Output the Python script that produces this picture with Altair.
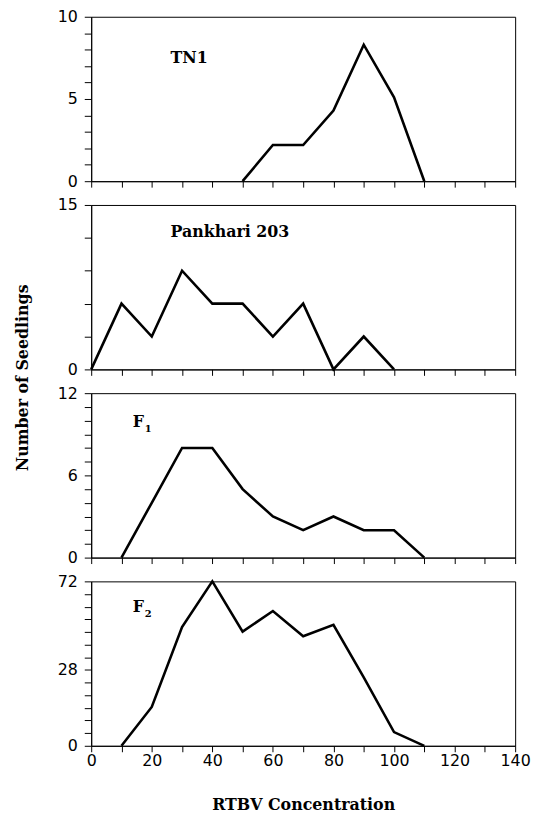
import altair as alt
import pandas as pd

# ---- data ----
x_ticks = list(range(0, 141, 10))

tn1_x = [50, 60, 70, 80, 90, 100, 110]
tn1_y = [0, 2.2, 2.2, 4.3, 8.3, 5.1, 0]

pank_x = [0, 10, 20, 30, 40, 50, 60, 70, 80, 90, 100]
pank_y = [0, 6, 3, 9, 6, 6, 3, 6, 0, 3, 0]

f1_x = [10, 20, 30, 40, 50, 60, 70, 80, 90, 100, 110]
f1_y = [0, 4, 8, 8, 5, 3, 2, 3, 2, 2, 0]

f2_x = [10, 20, 30, 40, 50, 60, 70, 80, 90, 100, 110]
f2_y = [0, 17, 52, 72, 50, 59, 48, 53, 30, 6, 0]

# y-axis ticks and labels as printed
tn1_ticks = list(range(0, 11))
tn1_labels = [(0, "0"), (5, "5"), (10, "10")]
pank_ticks = list(range(0, 16, 3))
pank_labels = [(0, "0"), (15, "15")]
f1_ticks = list(range(0, 13))
f1_labels = [(0, "0"), (6, "6"), (12, "12")]
f2_ticks = [i * 72 / 13 for i in range(14)]
f2_labels = [(0, "0"), (6 * 72 / 13, "28"), (72, "72")]

W = 428
H = 166
LABEL_FONT = "DejaVu Sans"
TITLE_FONT = "DejaVu Serif"


def label_expr(pairs):
    expr = "''"
    for v, t in reversed(pairs):
        expr = f"abs(datum.value - {v}) < 0.001 ? '{t}' : ({expr})"
    return expr


def panel(xs, ys, ymax, yticks, ylabels, names, bottom=False, ytitle=False):
    df = pd.DataFrame({"x": xs, "y": ys})
    if bottom:
        xaxis = alt.Axis(values=x_ticks, labelExpr="datum.value % 20 == 0 ? datum.label : ''",
                         tickSize=6, labelPadding=1, labelFlush=False,
                         title="RTBV Concentration", titleFont=TITLE_FONT,
                         titleFontWeight="bold", titleFontSize=16, titlePadding=28,
                         titleColor="black")
    else:
        xaxis = alt.Axis(values=x_ticks, labels=False, tickSize=6, title=None)
    if ytitle:
        yaxis = alt.Axis(values=yticks, labelExpr=label_expr(ylabels), tickSize=7,
                         labelPadding=7, title="Number of Seedlings", titleFont=TITLE_FONT,
                         titleFontWeight="bold", titleFontSize=16, titlePadding=27,
                         titleY=H + 8, titleColor="black")
    else:
        yaxis = alt.Axis(values=yticks, labelExpr=label_expr(ylabels), tickSize=7,
                         labelPadding=7, title=None)
    line = alt.Chart(df).mark_line(color="black", strokeWidth=2.6).encode(
        x=alt.X("x:Q", scale=alt.Scale(domain=[0, 140], nice=False), axis=xaxis),
        y=alt.Y("y:Q", scale=alt.Scale(domain=[0, ymax], nice=False), axis=yaxis),
    )
    layers = [line]
    for text, px, py, size in names:
        layers.append(
            alt.Chart(pd.DataFrame({"t": [text]})).mark_text(
                align="left", baseline="middle", font=TITLE_FONT, fontWeight="bold",
                fontSize=size, color="black"
            ).encode(x=alt.value(px), y=alt.value(py), text="t:N")
        )
    return alt.layer(*layers).properties(width=W, height=H)


p1 = panel(tn1_x, tn1_y, 10, tn1_ticks, tn1_labels, [("TN1", 80, 42, 16)])
p2 = panel(pank_x, pank_y, 15, pank_ticks, pank_labels, [("Pankhari 203", 80, 27, 16)], ytitle=True)
p3 = panel(f1_x, f1_y, 12, f1_ticks, f1_labels, [("F", 42, 29, 16), ("1", 54, 36, 10)])
p4 = panel(f2_x, f2_y, 72, f2_ticks, f2_labels, [("F", 42, 26, 16), ("2", 54, 33, 10)], bottom=True)

chart = alt.vconcat(p1, p2, p3, p4, spacing=24, bounds="flush").resolve_scale(
    y="independent"
).properties(
    padding={"left": 6, "top": -4, "right": 0, "bottom": -3}
).configure_view(
    stroke="black", strokeWidth=1
).configure_axis(
    domainColor="black", tickColor="black", labelColor="black",
    labelFont=LABEL_FONT, labelFontSize=16, grid=False, domainWidth=1, tickWidth=1
)

chart.save("out.html", embed_options={"renderer": "svg", "actions": False})
